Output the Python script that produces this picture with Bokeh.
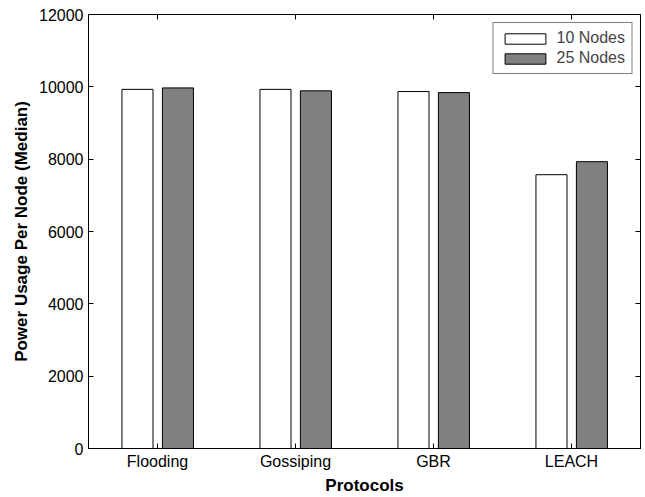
from bokeh.plotting import figure
from bokeh.models import (ColumnDataSource, Range1d, LinearAxis, FixedTicker, Legend, LegendItem)
from bokeh.transform import dodge
from bokeh.embed import file_html
from bokeh.resources import INLINE

protocols = ["Flooding", "Gossiping", "GBR", "LEACH"]
nodes10 = [9930, 9930, 9870, 7570]
nodes25 = [9970, 9890, 9840, 7930]
series_labels = ["10 Nodes", "25 Nodes"]
y_ticks = [0, 2000, 4000, 6000, 8000, 10000, 12000]

xpos = list(range(1, len(protocols) + 1))
src = ColumnDataSource(dict(x=xpos, a=nodes10, b=nodes25))

FONT = "Liberation Sans"
p = figure(width=645, height=497, x_range=Range1d(0.5, len(protocols) + 0.5),
           y_range=Range1d(0, 12000), output_backend="svg", toolbar_location=None,
           min_border_left=88, min_border_right=5, min_border_top=14, min_border_bottom=49)

r1 = p.vbar(x=dodge("x", -0.145), top="a", width=0.225, source=src,
            fill_color="white", line_color="black", line_width=1)
r2 = p.vbar(x=dodge("x", 0.148), top="b", width=0.225, source=src,
            fill_color="#808080", line_color="black", line_width=1)

p.xgrid.visible = False
p.ygrid.visible = False
p.outline_line_color = "black"
p.outline_line_width = 1
p.background_fill_color = "white"
p.border_fill_color = "white"

p.yaxis.ticker = FixedTicker(ticks=y_ticks)
p.xaxis.ticker = FixedTicker(ticks=xpos)
p.xaxis.major_label_overrides = {x: name for x, name in zip(xpos, protocols)}
for ax in [p.xaxis[0], p.yaxis[0]]:
    ax.major_tick_in = 5
    ax.major_tick_out = 0
    ax.minor_tick_in = 0
    ax.minor_tick_out = 0
    ax.axis_line_color = "black"
    ax.major_label_text_font = FONT
    ax.major_label_text_font_size = "16px"
    ax.major_label_text_color = "black"
    ax.axis_label_text_font = FONT
    ax.axis_label_text_font_size = "17px"
    ax.axis_label_text_font_style = "bold"
    ax.axis_label_text_color = "black"
p.yaxis.axis_label = "Power Usage Per Node (Median)"
p.xaxis.axis_label = "Protocols"
p.yaxis.major_label_standoff = 5
p.xaxis.major_label_standoff = 4
p.xaxis.axis_label_standoff = 3
p.yaxis.axis_label_standoff = 5

rax = LinearAxis(ticker=FixedTicker(ticks=y_ticks), major_tick_in=5, major_tick_out=0,
                 minor_tick_in=0, minor_tick_out=0,
                 major_label_overrides={t: "" for t in y_ticks},
                 axis_line_color="black")
p.add_layout(rax, "right")

tax = LinearAxis(ticker=FixedTicker(ticks=xpos),
                 major_tick_in=5, major_tick_out=0, minor_tick_in=0, minor_tick_out=0,
                 major_label_overrides={t: "" for t in xpos},
                 axis_line_color="black")
p.add_layout(tax, "above")

legend = Legend(items=[LegendItem(label=series_labels[0], renderers=[r1]),
                       LegendItem(label=series_labels[1], renderers=[r2])],
                location="top_right", label_text_font=FONT, label_text_font_size="16px",
                glyph_width=51, glyph_height=13, label_height=18,
                border_line_color="black", border_line_width=1,
                padding=6, spacing=2, margin=8, label_standoff=6, background_fill_alpha=1)
p.add_layout(legend, "center")

open("out.html", "w").write(file_html(p, INLINE))
